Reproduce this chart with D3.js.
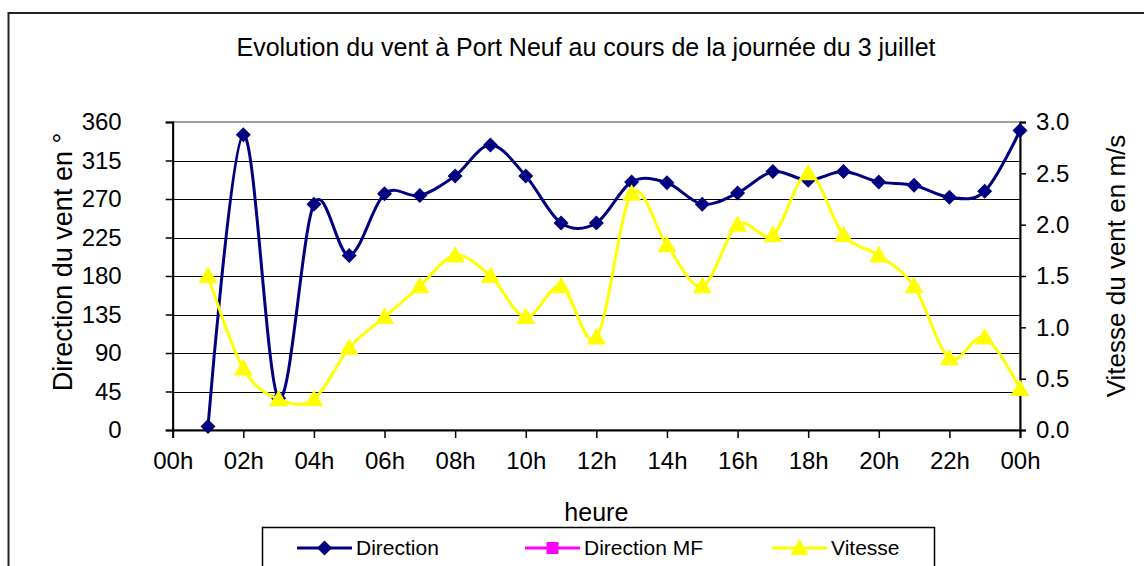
<!DOCTYPE html>
<html>
<head>
<meta charset="utf-8">
<script src="https://cdn.jsdelivr.net/npm/d3@7"></script>
<style>
  html, body { margin: 0; padding: 0; background: #fff; }
  svg { display: block; }
  text { font-family: "Liberation Sans", Arial, sans-serif; fill: #000; }
</style>
</head>
<body>
<svg id="chart" width="1144" height="566"></svg>
<script>
// ---- data ----
const titleText = "Evolution du vent à Port Neuf au cours de la journée du 3 juillet";
const hours = [1,2,3,4,5,6,7,8,9,10,11,12,13,14,15,16,17,18,19,20,21,22,23,24];
const direction = [4,345,37,264,204,276,274,297,333,297,242,242,290,289,264,277,302,292,302,290,286,272,279,350];
const directionMF = [];
const vitesse = [1.5,0.6,0.3,0.3,0.8,1.1,1.4,1.7,1.5,1.1,1.4,0.9,2.3,1.8,1.4,2.0,1.9,2.5,1.9,1.7,1.4,0.7,0.9,0.4];
const xTickValues = [0,2,4,6,8,10,12,14,16,18,20,22,24];
const xTickLabels = ["00h","02h","04h","06h","08h","10h","12h","14h","16h","18h","20h","22h","00h"];
const leftTicks = [0,45,90,135,180,225,270,315,360];
const rightTicks = [0,0.5,1.0,1.5,2.0,2.5,3.0];
const seriesNames = ["Direction","Direction MF","Vitesse"];
const seriesColors = ["#000080","#FF00FF","#FFFF00"];

// ---- layout ----
const svg = d3.select("#chart");
const L = 172.7, R = 1020, T = 122, B = 430;

const x = d3.scaleLinear().domain([0,24]).range([L,R]);
const yL = d3.scaleLinear().domain([0,360]).range([B,T]);
const yR = d3.scaleLinear().domain([0,3]).range([B,T]);

// outer chart border
svg.append("rect").attr("x",8.5).attr("y",13).attr("width",1200).attr("height",600)
  .attr("fill","#fff").attr("stroke","#222").attr("stroke-width",2);

// title
svg.append("text").attr("x",586).attr("y",56).attr("text-anchor","middle")
  .style("font-size","25px").text(titleText);

// gridlines
svg.append("g").selectAll("line").data(leftTicks.filter(d=>d>0 && d<360)).join("line")
  .attr("x1",L).attr("x2",R).attr("y1",d=>Math.round(yL(d))+0.5).attr("y2",d=>Math.round(yL(d))+0.5)
  .attr("stroke","#000").attr("stroke-width",1);

// plot area border (gray)
svg.append("rect").attr("x",L).attr("y",T).attr("width",R-L).attr("height",B-T)
  .attr("fill","none").attr("stroke","#808080").attr("stroke-width",1.5);

// axes
const axL = d3.axisLeft(yL).tickValues(leftTicks).tickSize(7).tickPadding(44).tickFormat(d3.format("d"));
const gL = svg.append("g").attr("transform",`translate(${L},0)`).call(axL);
const axR = d3.axisRight(yR).tickValues(rightTicks).tickSize(6).tickPadding(10).tickFormat(d3.format(".1f"));
const gR = svg.append("g").attr("transform",`translate(${R},0)`).call(axR);
const axB = d3.axisBottom(x).tickValues(xTickValues).tickSize(8).tickPadding(14)
  .tickFormat((d,i)=>xTickLabels[i]);
const gB = svg.append("g").attr("transform",`translate(0,${B})`).call(axB);
[gL,gR,gB].forEach(g=>{
  g.select(".domain").attr("stroke","#000").attr("stroke-width",2);
  g.selectAll(".tick line").attr("stroke","#000").attr("stroke-width",1.5);
  g.selectAll(".tick text").style("font-size","24px").style("font-family","'Liberation Sans', Arial, sans-serif").attr("fill","#000");
});
gB.selectAll(".tick text").attr("dy","0.71em");

// axis titles
svg.append("text").attr("transform","translate(72,262) rotate(-90)").attr("text-anchor","middle")
  .style("font-size","27px").text("Direction du vent en °");
svg.append("text").attr("transform","translate(1125,266) rotate(-90)").attr("text-anchor","middle")
  .style("font-size","26px").text("Vitesse du vent en m/s");
svg.append("text").attr("x",(L+R)/2).attr("y",521).attr("text-anchor","middle")
  .style("font-size","25px").text("heure");

// series
const curve = d3.curveCatmullRom.alpha(0);
const dirLine = d3.line().x((d,i)=>x(hours[i])).y(d=>yL(d)).curve(curve);
const vitLine = d3.line().x((d,i)=>x(hours[i])).y(d=>yR(d)).curve(curve);

svg.append("path").attr("d",dirLine(direction)).attr("fill","none")
  .attr("stroke",seriesColors[0]).attr("stroke-width",3);
const diamond = "M0,-7.5L7.5,0L0,7.5L-7.5,0Z";
svg.append("g").selectAll("path").data(direction).join("path")
  .attr("transform",(d,i)=>`translate(${x(hours[i])},${yL(d)})`)
  .attr("d",diamond).attr("fill",seriesColors[0]);

if (directionMF.length) {
  svg.append("path").attr("d",dirLine(directionMF)).attr("fill","none")
    .attr("stroke",seriesColors[1]).attr("stroke-width",3);
}

svg.append("path").attr("d",vitLine(vitesse)).attr("fill","none")
  .attr("stroke",seriesColors[2]).attr("stroke-width",3);
const tri = "M0,-9.5L9.5,7L-9.5,7Z";
svg.append("g").selectAll("path").data(vitesse).join("path")
  .attr("transform",(d,i)=>`translate(${x(hours[i])},${yR(d)})`)
  .attr("d",tri).attr("fill",seriesColors[2]);

// legend
svg.append("rect").attr("x",262.5).attr("y",527.5).attr("width",672).attr("height",60)
  .attr("fill","#fff").attr("stroke","#000").attr("stroke-width",1.5);
const legX = [297, 525, 772];
const markers = [diamond, "M-6,-6H6V6H-6Z", "M0,-9L9,7L-9,7Z"];
const lg = svg.append("g").selectAll("g").data(seriesNames).join("g")
  .attr("transform",(d,i)=>`translate(${legX[i]},548)`);
lg.append("line").attr("x1",0).attr("x2",55).attr("y1",0).attr("y2",0)
  .attr("stroke",(d,i)=>seriesColors[i]).attr("stroke-width",3);
lg.append("path").attr("transform","translate(27.5,0)").attr("d",(d,i)=>markers[i])
  .attr("fill",(d,i)=>seriesColors[i]);
lg.append("text").attr("x",59).attr("y",0).attr("dy","0.35em").style("font-size","21px").text(d=>d);
</script>
</body>
</html>
